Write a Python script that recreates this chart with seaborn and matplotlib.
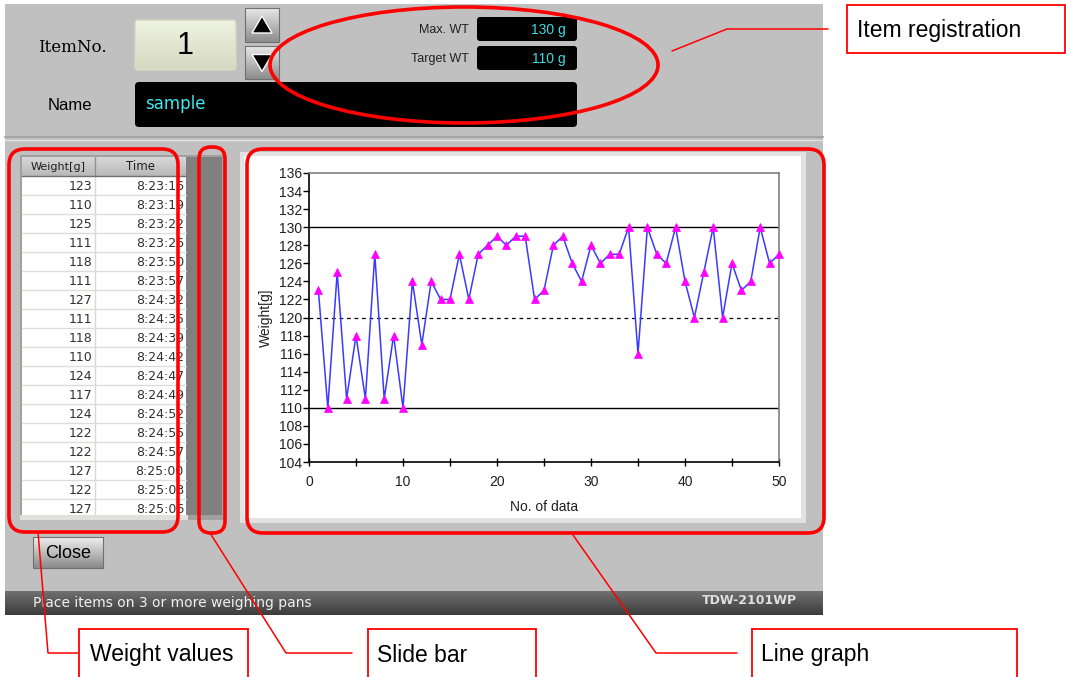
import numpy as np
import matplotlib
matplotlib.use("Agg")
import matplotlib.pyplot as plt
from matplotlib.patches import Rectangle, FancyBboxPatch, Ellipse, Polygon
import seaborn as sns

# ---------------- data ----------------
data_no = list(range(1, 51))
weights = [123, 110, 125, 111, 118, 111, 127, 111, 118, 110,
           124, 117, 124, 122, 122, 127, 122, 127, 128, 129,
           128, 129, 129, 122, 123, 128, 129, 126, 124, 128,
           126, 127, 127, 130, 116, 130, 127, 126, 130, 124,
           120, 125, 130, 120, 126, 123, 124, 130, 126, 127]
table_weights = weights[:18]
table_times = ["8:23:16", "8:23:19", "8:23:22", "8:23:26", "8:23:50", "8:23:57",
               "8:24:32", "8:24:35", "8:24:39", "8:24:42", "8:24:47", "8:24:49",
               "8:24:52", "8:24:55", "8:24:57", "8:25:00", "8:25:03", "8:25:06"]
max_wt = 130
target_wt = 110
mid_line = 120
y_ticks = list(range(104, 137, 2))
x_ticks = [0, 10, 20, 30, 40, 50]
annotations = ["Item registration", "Weight values", "Slide bar", "Line graph"]

sns.set_theme(style="white")
plt.rcParams['font.family'] = ['Liberation Sans', 'DejaVu Sans']

W, H = 1066, 677
fig = plt.figure(figsize=(W / 100, H / 100), dpi=100)
fig.patch.set_facecolor("white")

bg = fig.add_axes([0, 0, 1, 1], zorder=0)
bg.set_xlim(0, W)
bg.set_ylim(H, 0)
bg.axis("off")


def rect(ax, x0, y0, x1, y1, fc, ec="none", lw=0, z=1):
    ax.add_patch(Rectangle((x0, y0), x1 - x0, y1 - y0, facecolor=fc,
                           edgecolor=ec, linewidth=lw, zorder=z))


def grad(ax, x0, y0, x1, y1, c_top, c_bot, z=1):
    t = np.linspace(0, 1, 64)[:, None]
    a = np.array(matplotlib.colors.to_rgb(c_top))
    b = np.array(matplotlib.colors.to_rgb(c_bot))
    img = (a[None, None, :] * (1 - t[:, :, None]) + b[None, None, :] * t[:, :, None])
    ax.imshow(img, extent=(x0, x1, y1, y0), aspect="auto", zorder=z,
              interpolation="bilinear")


def rbox(ax, x0, y0, x1, y1, r, fc, ec="none", lw=0, z=1):
    ax.add_patch(FancyBboxPatch((x0, y0), x1 - x0, y1 - y0,
                                boxstyle=f"round,pad=0,rounding_size={r}",
                                facecolor=fc, edgecolor=ec, linewidth=lw, zorder=z))


# ---------------- screen background ----------------
rect(bg, 5, 4, 823, 615, "#c0c0c0", z=1)
bg.plot([5, 823], [137, 137], color="#a4a4a4", lw=1.5, zorder=2)
bg.plot([5, 823], [140, 140], color="#e2e2e2", lw=1.0, zorder=2)

# top area
bg.text(38, 47, "ItemNo.", fontsize=12, ha="left", va="center",
        family=["DejaVu Serif"], color="black", zorder=3)
bg.text(48, 106, "Name", fontsize=12, ha="left", va="center", color="black", zorder=3)
rbox(bg, 135, 20, 236, 70, 3, "#e6ead2", ec="#d4d8c0", lw=1, z=2)
grad(bg, 136, 21, 235, 69, "#eef2e0", "#d6dac2", z=2)
bg.text(185, 46, "1", fontsize=22, ha="center", va="center", color="black", zorder=3)
for (y0, y1, up) in [(8, 42, True), (46, 79, False)]:
    grad(bg, 245, y0, 279, y1, "#e8e8e8", "#8c8c8c", z=2)
    rect(bg, 245, y0, 279, y1, "none", ec="#707070", lw=0.8, z=3)
    cx, cy = 262, (y0 + y1) / 2
    if up:
        pts = [(cx - 10, cy + 8), (cx + 10, cy + 8), (cx, cy - 9)]
    else:
        pts = [(cx - 10, cy - 8), (cx + 10, cy - 8), (cx, cy + 9)]
    bg.add_patch(Polygon(pts, closed=True, facecolor="black", zorder=4))

rbox(bg, 477, 17, 577, 41, 3, "black", z=2)
rbox(bg, 477, 46, 577, 70, 3, "black", z=2)
rbox(bg, 135, 82, 577, 127, 4, "black", z=2)
bg.text(469, 30, "Max. WT", fontsize=9, ha="right", va="center", color="#202020", zorder=3)
bg.text(469, 59, "Target WT", fontsize=9, ha="right", va="center", color="#202020", zorder=3)
bg.text(566, 30, f"{max_wt} g", fontsize=10, ha="right", va="center", color="#40d8e0", zorder=3)
bg.text(566, 59, f"{target_wt} g", fontsize=10, ha="right", va="center", color="#40d8e0", zorder=3)
bg.text(145, 104, "sample", fontsize=12, ha="left", va="center", color="#40e8f0",
        family=["DejaVu Sans"], zorder=3)

# ---------------- table ----------------
tx0, tsep, tx1 = 22, 95, 186
hy0, hy1 = 157, 176
rowh = 19
rect(bg, 20, 155, 224, 520, "#a0a0a0", z=2)
rect(bg, 186, 157, 222, 515, "#808080", z=3)
rect(bg, tx0, 176, tx1, 515, "white", z=3)
grad(bg, tx0, hy0, tx1, hy1, "#d8d8d8", "#b8b8b8", z=3)
bg.plot([tsep, tsep], [hy0, 515], color="#d8d8d8", lw=1, zorder=4)
bg.plot([tsep, tsep], [hy0, hy1], color="#909090", lw=1, zorder=4)
bg.plot([tx0, tx1], [hy1, hy1], color="#707070", lw=1, zorder=4)
bg.text((tx0 + tsep) / 2, 167, "Weight[g]", fontsize=8, ha="center", va="center",
        family=["DejaVu Sans"], color="#202020", zorder=5)
bg.text((tsep + tx1) / 2, 167, "Time", fontsize=8.5, ha="center", va="center",
        family=["DejaVu Sans"], color="#202020", zorder=5)
for i, (w, t) in enumerate(zip(table_weights, table_times)):
    yc = hy1 + rowh * i + rowh / 2
    if yc > 515:
        break
    bg.plot([tx0, tx1], [hy1 + rowh * (i + 1)] * 2, color="#dcdcd8", lw=1, zorder=4)
    bg.text(92, yc + 1, str(w), fontsize=9, ha="right", va="center",
            family=["DejaVu Sans"], color="#303030", zorder=5)
    bg.text(184, yc + 1, t, fontsize=9, ha="right", va="center",
            family=["DejaVu Sans"], color="#303030", zorder=5)
rect(bg, 20, 515, 188, 520, "#e0e0dc", z=5)

# Close button
grad(bg, 33, 537, 103, 568, "#f0f0f0", "#8a8a8a", z=2)
rect(bg, 33, 537, 103, 568, "none", ec="#707070", lw=0.8, z=3)
bg.text(68, 553, "Close", fontsize=13, ha="center", va="center", color="black", zorder=4)

# status bar
grad(bg, 5, 591, 823, 615, "#707070", "#3c3c3c", z=2)
bg.text(33, 603, "Place items on 3 or more weighing pans", fontsize=10, ha="left",
        va="center", color="#f0f0f0", family=["DejaVu Sans"], zorder=3)
bg.text(797, 601, "TDW-2101WP", fontsize=9, ha="right", va="center",
        color="#e0e0e0", weight="bold", family=["DejaVu Sans"], zorder=3)

# chart panel
rect(bg, 240, 152, 806, 523, "#e2e2e2", z=2)
rect(bg, 244, 156, 801, 518, "white", z=2)

# ---------------- chart ----------------
ax_l, ax_r, ax_t, ax_b = 309, 779, 173, 462
ax = fig.add_axes([ax_l / W, 1 - ax_b / H, (ax_r - ax_l) / W, (ax_b - ax_t) / H], zorder=2)
ax.set_facecolor("white")
ax.axhline(max_wt, color="black", lw=1.0, zorder=1)
ax.axhline(target_wt, color="black", lw=1.0, zorder=1)
ax.axhline(mid_line, color="black", lw=0.9, ls=(0, (3, 3)), zorder=1)
sns.lineplot(x=data_no, y=weights, ax=ax, color="#3a3aff", lw=1.1, marker="^",
             markersize=6, markerfacecolor="#ff00ff", markeredgecolor="#ff00ff",
             markeredgewidth=0.5, zorder=3, clip_on=False)
ax.set_xlim(0, 50)
ax.set_ylim(104, 136)
ax.set_yticks(y_ticks)
ax.set_xticks(x_ticks)
ax.set_xticks([5, 15, 25, 35, 45], minor=True)
ax.tick_params(axis="y", which="both", left=True, direction="out", length=4,
               width=1, color="black", labelsize=10, pad=1, labelcolor="#202020")
ax.tick_params(axis="x", which="both", bottom=True, direction="inout", length=6,
               width=1, color="black", labelsize=10, pad=6, labelcolor="#202020")
for s in ["left", "bottom"]:
    ax.spines[s].set_color("black")
    ax.spines[s].set_linewidth(1.2)
for s in ["top", "right"]:
    ax.spines[s].set_color("#808080")
    ax.spines[s].set_linewidth(1.2)
ax.set_xlabel("No. of data", fontsize=10, color="#202020", labelpad=8)
ax.set_ylabel("Weight[g]", fontsize=10, color="#202020", labelpad=4)

# ---------------- annotation overlay ----------------
ov = fig.add_axes([0, 0, 1, 1], zorder=5)
ov.set_xlim(0, W)
ov.set_ylim(H, 0)
ov.axis("off")
ov.patch.set_alpha(0)
red = "#ff0000"
ov.add_patch(Ellipse((464, 65), 388, 116, facecolor="none", edgecolor=red, lw=2.6))
rbox(ov, 9, 149, 178, 532, 16, "none", ec=red, lw=2.6, z=5)
rbox(ov, 199, 147, 225, 533, 12, "none", ec=red, lw=2.6, z=5)
rbox(ov, 247, 149, 824, 533, 16, "none", ec=red, lw=2.6, z=5)

# label boxes
label_boxes = [(847, 5, 1065, 53), (79, 629, 248, 690), (368, 629, 536, 690), (752, 629, 1017, 690)]
text_pos = [(857, 30), (90, 655), (377, 655), (761, 655)]
for (x0, y0, x1, y1), (tx, ty), lab in zip(label_boxes, text_pos, annotations):
    rect(ov, x0, y0, x1, y1, "white", ec=red, lw=1.3, z=5)
    ov.text(tx, ty, lab, fontsize=16.5, ha="left", va="center", color="black", zorder=6)

# leader lines
leaders = [
    [(672, 51), (727, 29), (828, 29)],
    [(38, 532), (48, 653), (78, 653)],
    [(210, 533), (286, 653), (352, 653)],
    [(573, 535), (656, 653), (737, 653)],
]
for pts in leaders:
    xs, ys = zip(*pts)
    ov.plot(xs, ys, color=red, lw=1.1, zorder=5)

fig.savefig("out.png", dpi=100, facecolor="white")
